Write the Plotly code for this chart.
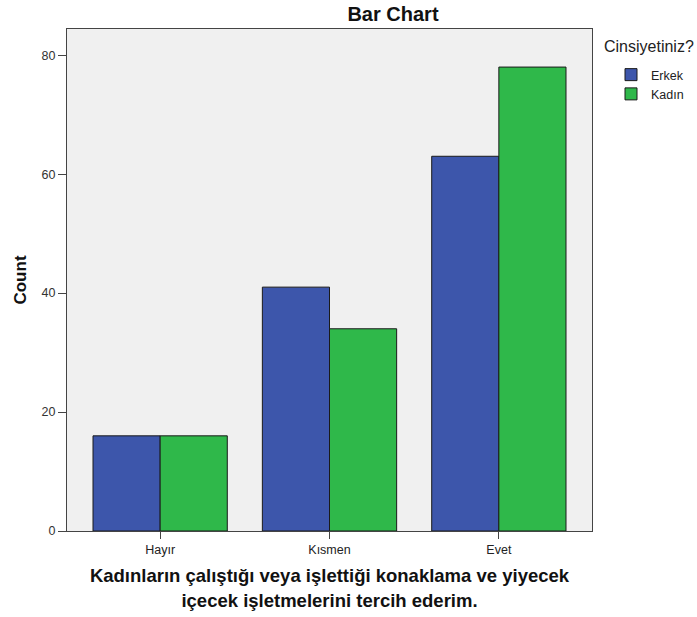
import plotly.graph_objects as go

categories = ["Hayır", "Kısmen", "Evet"]
erkek = [16, 41, 63]
kadin = [16, 34, 78]
series_names = ["Erkek", "Kadın"]
y_ticks = [0, 20, 40, 60, 80]

W, H = 697, 617
L, T = 67, 29
R = W - 592
B = H - 531
PW, PH = W - L - R, H - T - B


def px(xs):
    return (xs - L) / PW


def py(ys):
    return 1 - (ys - T) / PH


fig = go.Figure()
fig.add_trace(go.Bar(x=categories, y=erkek, name=series_names[0],
                     marker=dict(color="#3d56ab", line=dict(color="#1a1a1a", width=1))))
fig.add_trace(go.Bar(x=categories, y=kadin, name=series_names[1],
                     marker=dict(color="#2fb84a", line=dict(color="#1a1a1a", width=1))))

fig.update_layout(
    width=W, height=H,
    margin=dict(l=L, r=R, t=T, b=B, autoexpand=False),
    paper_bgcolor="white", plot_bgcolor="#f0f0f0",
    barmode="group", bargap=0.207, bargroupgap=0,
    font=dict(family="Liberation Sans, Arial, sans-serif", color="#222"),
    title=dict(text="<b>Bar Chart</b>", x=px(393), xanchor="center", xref="paper",
               y=1 - 14 / H, yanchor="middle", font=dict(size=20, color="#111")),
    showlegend=True,
    legend=dict(x=px(611), xanchor="left", y=py(60), yanchor="top",
                font=dict(size=12.5, color="#222"), bgcolor="rgba(0,0,0,0)",
                itemwidth=30, tracegroupgap=0),
    annotations=[dict(text="Cinsiyetiniz?", xref="paper", yref="paper",
                      x=px(602), xanchor="left", y=py(47), yanchor="middle",
                      showarrow=False, font=dict(size=16, color="#222"))],
)
fig.update_xaxes(
    range=[-0.55, 2.55], showline=True, linecolor="#444", linewidth=1, mirror=True,
    ticks="outside", ticklen=7, tickcolor="#444", tickfont=dict(size=12.5, color="#222"),
    automargin=False,
    title=dict(text="<b>Kadınların çalıştığı veya işlettiği konaklama ve yiyecek<br>içecek işletmelerini tercih ederim.</b>",
               font=dict(size=18.5, color="#111"), standoff=13),
    showgrid=False,
)
fig.update_yaxes(
    range=[0, 84.4], showline=True, linecolor="#444", linewidth=1, mirror=True,
    ticks="outside", ticklen=8, tickcolor="#444", tickvals=y_ticks,
    tickfont=dict(size=12.5, color="#333"), automargin=False,
    title=dict(text="<b>Count</b>", font=dict(size=17, color="#111"), standoff=10),
    showgrid=False, zeroline=False,
)
fig.write_html("out.html", config={"displayModeBar": False},
               post_script="document.body.style.margin='0';document.body.style.overflow='hidden';")
